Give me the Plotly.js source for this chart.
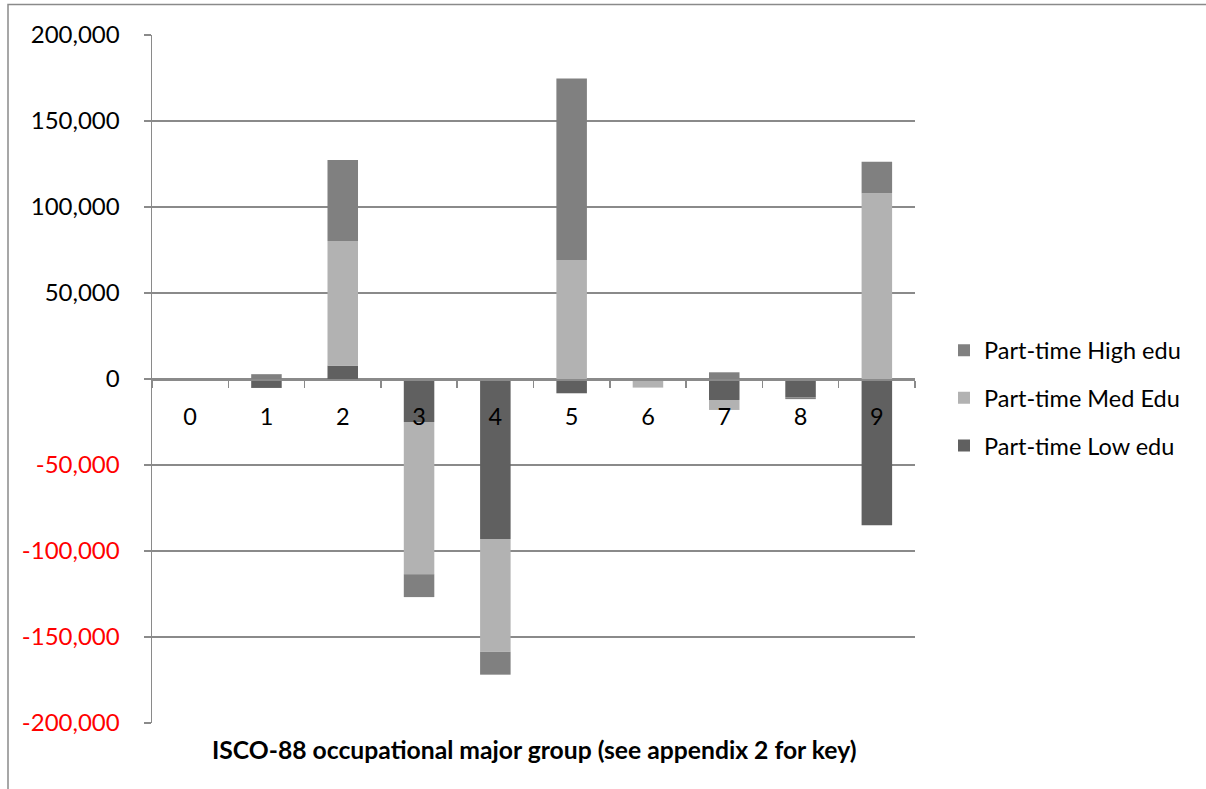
<!DOCTYPE html>
<html>
<head>
<meta charset="utf-8">
<script src="https://cdn.plot.ly/plotly-3.0.1.min.js"></script>
<style>
  html, body { margin: 0; padding: 0; background: #ffffff; }
  #chart { width: 1206px; height: 789px; }
</style>
</head>
<body>
<div id="chart"></div>
<script>
// ---- data ----
const categories = ['0', '1', '2', '3', '4', '5', '6', '7', '8', '9'];
const lowEdu  = [0, -5200, 7800, -25000, -93000, -8300, 0, -12200, -10600, -85000];
const medEdu  = [0, 0, 72500, -88500, -65500, 69200, -5000, -5800, 0, 108000];
const highEdu = [0, 2800, 47000, -13300, -13400, 105500, 0, 3900, -1100, 18300];
const seriesNames = ['Part-time Low edu', 'Part-time Med Edu', 'Part-time High edu'];
const yTickVals = [-200000, -150000, -100000, -50000, 0, 50000, 100000, 150000, 200000];
const xTitle = 'ISCO-88 occupational major group (see appendix 2 for key)';

// ---- helpers ----
function fmt(v) { return Math.abs(v).toString().replace(/\B(?=(\d{3})+(?!\d))/g, ','); }
const yTickText = yTickVals.map(v => v < 0
  ? '<span style="color:#ff0000">-' + fmt(v) + '</span>'
  : fmt(v));

const FONT = 'Lato, "Open Sans", sans-serif';
const FS = 23.5;
const GRID = '#8a8a8a';

const colors = ['#606060', '#b2b2b2', '#808080'];
const vals = [lowEdu, medEdu, highEdu];
const ranks = [3, 2, 1];

const traces = vals.map((v, i) => ({
  type: 'bar',
  x: categories,
  y: v,
  name: seriesNames[i],
  legendgroup: 'g' + i,
  legendrank: ranks[i],
  marker: { color: colors[i], line: { width: 0 } },
  hoverinfo: 'x+y+name'
}));

// plot area in pixels: left 152, right 915, top 35, bottom 723
const L = 152, R = 1206 - 915, T = 35, B = 789 - 723;
const pw = 1206 - L - R, ph = 789 - T - B;
const px = x => (x - L) / pw;
const py = y => (789 - B - y) / ph;

const layout = {
  width: 1206,
  height: 789,
  margin: { l: L, r: R, t: T, b: B, pad: 0 },
  paper_bgcolor: '#ffffff',
  plot_bgcolor: '#ffffff',
  font: { family: FONT, size: FS, color: '#000000' },
  barmode: 'relative',
  bargap: 0.6,
  showlegend: true,
  legend: {
    x: px(944), xanchor: 'left',
    y: py(398), yanchor: 'middle',
    traceorder: 'grouped',
    tracegroupgap: 14,
    font: { family: FONT, size: FS, color: '#000000' },
    bgcolor: 'rgba(0,0,0,0)'
  },
  xaxis: {
    type: 'category',
    anchor: 'free',
    position: 0.5,
    showline: true,
    linecolor: GRID,
    linewidth: 1.5,
    showgrid: false,
    zeroline: false,
    ticks: 'outside',
    tickson: 'boundaries',
    ticklen: 7,
    tickwidth: 1.5,
    tickcolor: GRID,
    ticklabelstandoff: 16,
    tickfont: { family: FONT, size: FS, color: '#000000' },
    fixedrange: true
  },
  yaxis: {
    range: [-200000, 200000],
    tickmode: 'array',
    tickvals: yTickVals,
    ticktext: yTickText,
    showline: true,
    linecolor: GRID,
    linewidth: 1.5,
    showgrid: true,
    gridcolor: GRID,
    gridwidth: 1.2,
    zeroline: false,
    ticks: 'outside',
    ticklen: 7,
    tickwidth: 1.5,
    tickcolor: GRID,
    ticklabelstandoff: 19,
    tickfont: { family: FONT, size: 24, color: '#000000' },
    fixedrange: true
  },
  annotations: [{
    text: '<b>' + xTitle + '</b>',
    xref: 'paper', yref: 'paper',
    x: 0.5, xanchor: 'center',
    y: py(749), yanchor: 'middle',
    showarrow: false,
    font: { family: FONT, size: 24.7, color: '#000000' }
  }],
  shapes: [{
    type: 'rect',
    xref: 'paper', yref: 'paper',
    x0: px(8), x1: px(1220),
    y0: py(800), y1: py(4.5),
    line: { color: GRID, width: 1.5 },
    fillcolor: 'rgba(0,0,0,0)',
    layer: 'below'
  }]
};

Plotly.newPlot('chart', traces, layout, { displayModeBar: false, staticPlot: true });
</script>
</body>
</html>
